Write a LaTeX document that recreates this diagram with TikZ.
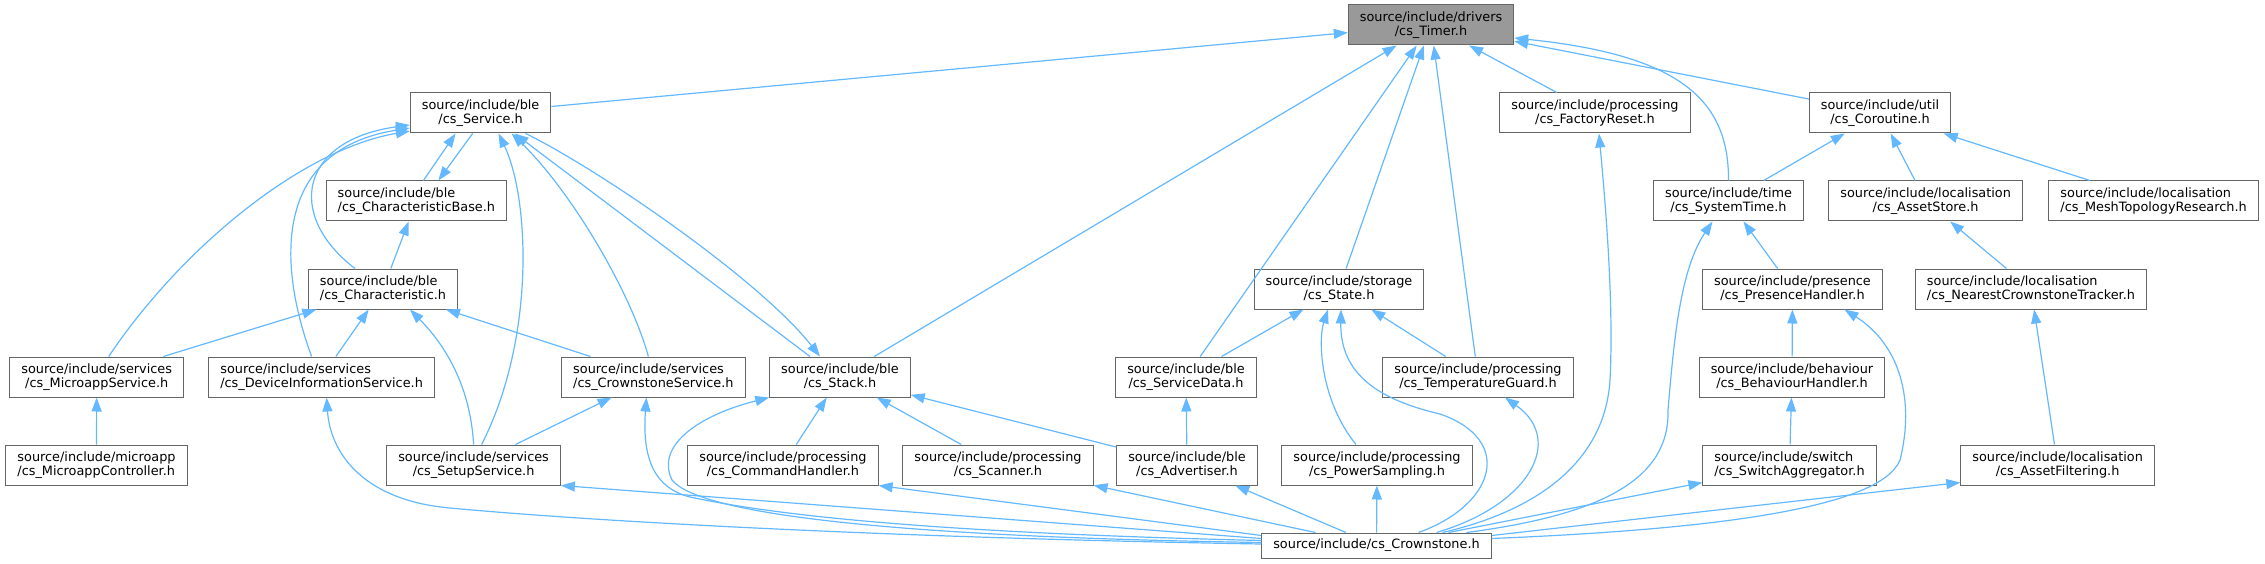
\documentclass[tikz,border=0pt]{standalone}
\usepackage{fontspec}
\setmainfont{DejaVu Sans}
\usepackage{tikz}
\usetikzlibrary{arrows.meta}
\definecolor{edgeblue}{HTML}{63B8FF}
\definecolor{boxgray}{HTML}{666666}
\definecolor{rootgray}{HTML}{999999}

\begin{document}
\begin{tikzpicture}[x=1pt, y=-1pt,
	file/.style={draw=boxgray, line width=1pt, fill=white, font=\fontsize{12.85pt}{14.7pt}\selectfont, inner xsep=11.5pt, inner ysep=0pt, minimum height=40pt, align=center},
	lfile/.style={file, align=left},
	root/.style={file, fill=rootgray},
	incl/.style={draw=edgeblue, line width=1.2pt, -{Triangle[length=14pt, width=10pt]}}]
	\useasboundingbox (0,0) rectangle (2265,564);

	\node (timer) at (1431,25) [root] {source/include/drivers\\/cs\_Timer.h};

	\node (svc) at (480.6,113) [file] {source/include/ble\\/cs\_Service.h};
	\node (factory) at (1595,113) [file] {source/include/processing\\/cs\_FactoryReset.h};
	\node (corout) at (1880,113) [file] {source/include/util\\/cs\_Coroutine.h};

	\node (charbase) at (416.4,201) [lfile] {source/include/ble\\/cs\_CharacteristicBase.h};
	\node (systime) at (1728.5,201) [file] {source/include/time\\/cs\_SystemTime.h};
	\node (assetstore) at (1925.6,201) [file] {source/include/localisation\\/cs\_AssetStore.h};
	\node (meshtopo) at (2153.6,201) [lfile] {source/include/localisation\\/cs\_MeshTopologyResearch.h};

	\node (charac) at (383,289) [lfile] {source/include/ble\\/cs\_Characteristic.h};
	\node (state) at (1339,289) [file] {source/include/storage\\/cs\_State.h};
	\node (presence) at (1792.5,289) [file] {source/include/presence\\/cs\_PresenceHandler.h};
	\node (nearest) at (2031,289) [lfile] {source/include/localisation\\/cs\_NearestCrownstoneTracker.h};

	\node (microsvc) at (96.7,377) [file] {source/include/services\\/cs\_MicroappService.h};
	\node (devinfo) at (321.6,377) [lfile] {source/include/services\\/cs\_DeviceInformationService.h};
	\node (crownsvc) at (653.4,377) [lfile] {source/include/services\\/cs\_CrownstoneService.h};
	\node (stack) at (840,377) [file] {source/include/ble\\/cs\_Stack.h};
	\node (servdata) at (1186,377) [file] {source/include/ble\\/cs\_ServiceData.h};
	\node (tempguard) at (1478,377) [file] {source/include/processing\\/cs\_TemperatureGuard.h};
	\node (behaviour) at (1792,377) [file] {source/include/behaviour\\/cs\_BehaviourHandler.h};

	\node (microctrl) at (96.5,465) [lfile] {source/include/microapp\\/cs\_MicroappController.h};
	\node (setup) at (473.6,465) [file] {source/include/services\\/cs\_SetupService.h};
	\node (cmdhandler) at (783,465) [file] {source/include/processing\\/cs\_CommandHandler.h};
	\node (scanner) at (998,465) [file] {source/include/processing\\/cs\_Scanner.h};
	\node (advert) at (1187,465) [file] {source/include/ble\\/cs\_Advertiser.h};
	\node (powersamp) at (1377,465) [file] {source/include/processing\\/cs\_PowerSampling.h};
	\node (switchagg) at (1789.5,465) [lfile] {source/include/switch\\/cs\_SwitchAggregator.h};
	\node (assetfilt) at (2057.6,465) [file] {source/include/localisation\\/cs\_AssetFiltering.h};

	\node (crown) at (1376.5,545.5) [file, minimum height=25pt] {source/include/cs\_Crownstone.h};

	\draw [incl] (svc) -- (timer);
	\draw [incl] (stack) -- (timer);
	\draw [incl] (servdata) -- (timer);
	\draw [incl] (state) -- (timer);
	\draw [incl] (tempguard) -- (timer);
	\draw [incl] (factory) -- (timer);
	\draw [incl] (corout) -- (timer);
	\draw [incl] (systime.north) .. controls (1729,100) and (1680,55) .. ([yshift=-13pt]timer.east);

	\draw [incl] ([xshift=7pt]charbase.north) -- ([xshift=-25pt]svc.south);
	\draw [incl] ([xshift=-8pt]svc.south) -- ([xshift=22pt]charbase.north);
	\draw [incl] (charac) -- (charbase);
	\draw [incl] ([xshift=-28pt]charac.north) .. controls (285,215) and (300,140) .. ([yshift=-12pt]svc.west);
	\draw [incl] ([xshift=12pt]microsvc.north) .. controls (180,250) and (300,150) .. ([yshift=-18pt]svc.west);
	\draw [incl] ([xshift=-10pt]devinfo.north) .. controls (278,265) and (272,150) .. ([yshift=-15pt]svc.west);
	\draw [incl] ([xshift=8pt]setup.north) .. controls (535,340) and (530,200) .. ([xshift=18pt]svc.south);
	\draw [incl] ([xshift=-5pt]crownsvc.north) .. controls (630,290) and (570,190) .. ([xshift=31pt]svc.south);
	\draw [incl] ([xshift=-30pt]stack.north) -- ([xshift=34pt]svc.south);
	\draw [incl] ([xshift=45pt]svc.south) .. controls (600,170) and (760,280) .. ([xshift=-20pt]stack.north);

	\draw [incl] (microsvc) -- (charac);
	\draw [incl] (devinfo) -- (charac);
	\draw [incl] (setup.north) .. controls (470,380) and (440,340) .. ([xshift=27pt]charac.south);
	\draw [incl] (crownsvc) -- (charac);
	\draw [incl] (microctrl) -- (microsvc);
	\draw [incl] (setup) -- (crownsvc);

	\draw [incl] (cmdhandler) -- (stack);
	\draw [incl] (scanner) -- (stack);
	\draw [incl] (advert) -- (stack);
	\draw [incl] (servdata) -- (state);
	\draw [incl] (tempguard) -- (state);
	\draw [incl] ([xshift=-21pt]powersamp.north) .. controls (1320,400) and (1318,340) .. ([xshift=-11pt]state.south);
	\draw [incl] (advert) -- (servdata);

	\draw [incl] (systime) -- (corout);
	\draw [incl] (assetstore) -- (corout);
	\draw [incl] (meshtopo) -- (corout);
	\draw [incl] (presence) -- (systime);
	\draw [incl] (nearest) -- (assetstore);
	\draw [incl] (behaviour) -- (presence);
	\draw [incl] (switchagg) -- (behaviour);
	\draw [incl] (assetfilt) -- (nearest);

	\draw [incl] (crown) -- (scanner);
	\draw [incl] (crown) -- (advert);
	\draw [incl] (crown) -- (powersamp);
	\draw [incl] ([yshift=10pt]crown.west) -- (cmdhandler.south east);
	\draw [incl] ([yshift=7pt]crown.west) -- (setup.south east);
	\draw [incl] ([yshift=5pt]crown.west) .. controls (900,532) and (760,512) .. (690,497) .. controls (655,488) and (642,460) .. ([xshift=-7pt]crownsvc.south);
	\draw [incl] ([yshift=3pt]crown.west) .. controls (900,537) and (700,515) .. (672,480) .. controls (655,445) and (700,415) .. (stack.south west);
	\draw [incl] ([yshift=1.5pt]crown.west) .. controls (900,538) and (600,522) .. (450,508) .. controls (360,500) and (330,450) .. ([xshift=5pt]devinfo.south);

	\draw [incl] ([xshift=42pt]crown.north) .. controls (1495,505) and (1515,440) .. (1440,414) .. controls (1380,400) and (1340,375) .. ([xshift=2pt]state.south);
	\draw [incl] ([xshift=60pt]crown.north) .. controls (1530,505) and (1565,440) .. ([xshift=27pt]tempguard.south);
	\draw [incl] ([xshift=66pt]crown.north) .. controls (1540,510) and (1605,460) .. (1610,380) .. controls (1614,300) and (1605,200) .. ([xshift=4pt]factory.south);
	\draw [incl] ([xshift=72pt]crown.north) -- ([yshift=3pt]switchagg.south west);
	\draw [incl] ([xshift=90pt]crown.north) .. controls (1600,515) and (1670,480) .. (1668,410) .. controls (1674,340) and (1680,270) .. ([xshift=-16pt]systime.south);
	\draw [incl] ([yshift=7pt]crown.east) .. controls (1700,530) and (1880,510) .. (1900,460) .. controls (1915,400) and (1900,345) .. ([xshift=52pt]presence.south);
	\draw [incl] ([yshift=10pt]crown.east) -- ([yshift=3pt]assetfilt.south west);
\end{tikzpicture}
\end{document}
